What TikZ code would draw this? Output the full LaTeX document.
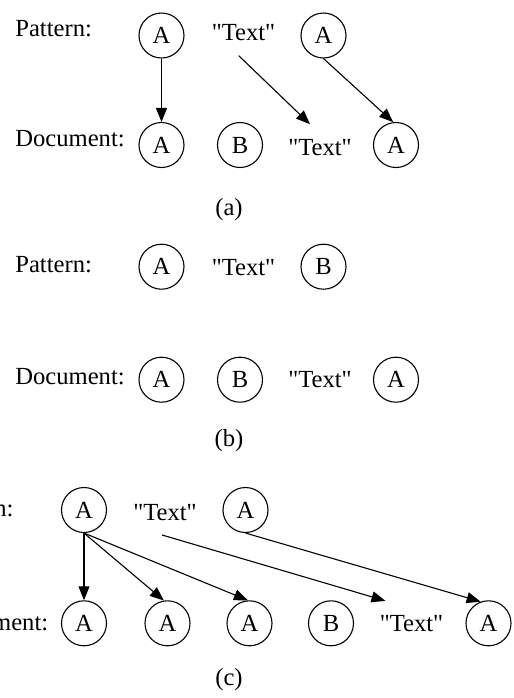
\documentclass[tikz,border=0pt]{standalone}
\usepackage{fontspec}
\setmainfont{Liberation Serif}
\usetikzlibrary{arrows.meta}

\newcommand{\qtext}{\textquotedbl Text\textquotedbl}

\begin{document}
\begin{tikzpicture}[x=0.5pt, y=-0.5pt, font=\fontsize{12.3}{14}\selectfont,
  elem/.style={draw, circle, line width=0.55pt, minimum size=22.5pt, inner sep=0pt},
  str/.style={anchor=base, minimum height=22.5pt, inner sep=0pt},
  lbl/.style={anchor=base west, inner sep=0pt},
  match/.style={-{Triangle[length=7pt, width=5.5pt]}, line width=0.55pt}]
\useasboundingbox (0,0) rectangle (514,698);
\clip (0,0) rectangle (514,698);

% (a)
\node[lbl] (pla) at (15,36.7) {Pattern:};
\node[lbl] (dla) at (15,146.7) {Document:};
\node[elem] (pa1) at (161.5,35.5) {A};
\node[str] (pta) at (243.5,40.7) {\qtext};
\node[elem] (pa2) at (323.5,35.5) {A};
\node[elem] (da1) at (161.5,145) {A};
\node[elem] (da2) at (240,145) {B};
\node[str] (dta) at (320,155) {\qtext};
\node[elem] (da4) at (396,145) {A};
\draw[match] (pa1.south) -- (da1.north);
\draw[match] ([xshift=-2.4pt]pta.south) -- ([xshift=-5pt]dta.north);
\draw[match] (pa2.south) -- (da4.97);
\node (capa) at (229,210) {(a)};

% (b)
\node[lbl] (plb) at (15,272.7) {Pattern:};
\node[lbl] (dlb) at (15,384.3) {Document:};
\node[elem] (pb1) at (161.5,266.7) {A};
\node[str] (ptb) at (243.5,275) {\qtext};
\node[elem] (pb2) at (323.5,266.7) {B};
\node[elem] (db1) at (161.5,379.7) {A};
\node[elem] (db2) at (240,379.7) {B};
\node[str] (dtb) at (320,387.3) {\qtext};
\node[elem] (db4) at (396,379.7) {A};
\node (capb) at (229,441) {(b)};

% (c)
\node[lbl] (plc) at (-63.5,516.7) {Pattern:};
\node[lbl] (dlc) at (-61.5,630) {Document:};
\node[elem] (pc1) at (84,510) {A};
\node[str] (ptc) at (165,520) {\qtext};
\node[elem] (pc2) at (245.5,510) {A};
\node[elem] (dc1) at (84,623.3) {A};
\node[elem] (dc2) at (167.5,623.3) {A};
\node[elem] (dc3) at (249.5,623.3) {A};
\node[elem] (dc4) at (331,623.3) {B};
\node[str] (dtc) at (411.5,631.7) {\qtext};
\node[elem] (dc6) at (488.5,623.3) {A};
\draw[match] (pc1.south) -- (dc1.north);
\draw[match] (pc1.south) -- (dc2.99);
\draw[match] (pc1.south) -- (dc3.94);
\draw[match] ([xshift=-1.5pt]ptc.south) -- ([xshift=-13pt]dtc.north);
\draw[match] (pc2.south) -- (dc6.110);
\node (capc) at (229,680) {(c)};
\end{tikzpicture}
\end{document}
